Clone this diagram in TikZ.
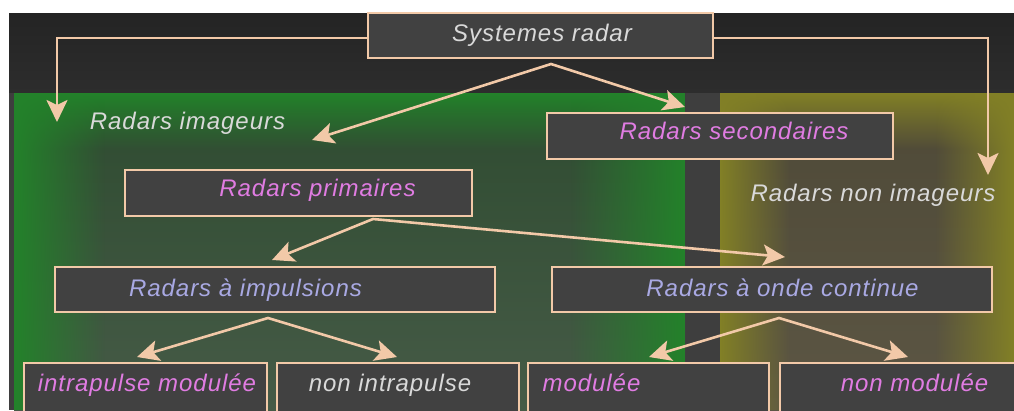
\documentclass[tikz,border=0pt]{standalone}
\usepackage{fontspec}
\setmainfont{Liberation Sans}
\newfontfamily\labfont{Liberation Sans}[LetterSpace=4]
\usetikzlibrary{arrows.meta,fadings}
\definecolor{peach}{HTML}{F2C9A8}
\definecolor{boxgrey}{HTML}{414141}
\definecolor{bgtop}{HTML}{242424}
\definecolor{bgbot}{HTML}{2D2D2D}
\definecolor{gapgrey}{HTML}{3E3E3E}
\definecolor{gEdge}{HTML}{23822A}
\definecolor{gTop}{HTML}{2E4B30}
\definecolor{gBot}{HTML}{465B47}
\definecolor{yEdge}{HTML}{828026}
\definecolor{yTop}{HTML}{4E4937}
\definecolor{yBot}{HTML}{5C5644}
\definecolor{pinkT}{HTML}{E07CE2}
\definecolor{lavT}{HTML}{A9A9E3}
\definecolor{greyT}{HTML}{D9D9D9}
\tikzfading[name=fadeToRight, left color=transparent!0, right color=transparent!100]
\tikzfading[name=fadeToLeft, left color=transparent!100, right color=transparent!0]
\tikzfading[name=fadeToBottom, top color=transparent!0, bottom color=transparent!100]
\begin{document}
\begin{tikzpicture}[x=1pt,y=-1pt,
  box/.style={draw=peach, line width=2.2pt, fill=boxgrey, inner sep=0pt},
  lab/.style={font=\labfont\itshape\fontsize{24}{28}\selectfont, inner sep=0pt, anchor=base},
  tip/.style={Stealth[length=22pt,width=21pt,inset=5pt]},
  arr/.style={draw=peach, line width=2.6pt, line join=miter, -{Stealth[length=22pt,width=21pt,inset=5pt]}},
  arr2/.style={draw=peach, line width=2.6pt, line join=miter,
    {Stealth[length=22pt,width=21pt,inset=5pt]}-{Stealth[length=22pt,width=21pt,inset=5pt]}}]
\useasboundingbox (0,0) rectangle (1014,410);
% background
\fill[white] (0,0) rectangle (1014,410);
\shade[top color=bgtop, bottom color=bgbot] (9,13) rectangle (1014,93);
\fill[gapgrey] (9,93) rectangle (1014,410);
% green region
\shade[top color=gTop, bottom color=gBot] (14,93) rectangle (685,410);
\fill[gEdge, path fading=fadeToBottom] (14,93) rectangle (685,150);
\fill[gEdge, path fading=fadeToRight] (14,93) rectangle (105,410);
\fill[gEdge, path fading=fadeToLeft] (570,93) rectangle (685,410);
% yellow region
\shade[top color=yTop, bottom color=yBot] (720,93) rectangle (1014,410);
\fill[yEdge, path fading=fadeToBottom] (720,93) rectangle (1014,150);
\fill[yEdge, path fading=fadeToRight] (720,93) rectangle (790,410);
\fill[yEdge, path fading=fadeToLeft] (935,93) rectangle (1014,410);
% boxes
\node[box, minimum width=345pt, minimum height=45pt] (sys) at (540.5,35.5) {};
\node[box, minimum width=346pt, minimum height=46pt] (sec) at (720,136) {};
\node[box, minimum width=347pt, minimum height=46pt] (pri) at (298.5,193) {};
\node[box, minimum width=440pt, minimum height=45pt] (imp) at (275,289.5) {};
\node[box, minimum width=440pt, minimum height=45pt] (onde) at (772,289.5) {};
\node[box, minimum width=243pt, minimum height=57pt] (b1) at (145.5,391.5) {};
\node[box, minimum width=242pt, minimum height=57pt] (b2) at (398,391.5) {};
\node[box, minimum width=241pt, minimum height=57pt] (b3) at (648.5,391.5) {};
\node[box, minimum width=250pt, minimum height=57pt] (b4) at (905,391.5) {};
% texts
\node[lab, text=greyT] (tsys) at (542,41) {Systemes radar};
\node[lab, text=greyT] (timg) at (187.5,129) {Radars imageurs};
\node[lab, text=pinkT] (tsec) at (734,139) {Radars secondaires};
\node[lab, text=pinkT] (tpri) at (317.5,196) {Radars primaires};
\node[lab, text=greyT] (tnon) at (873,201) {Radars non imageurs};
\node[lab, text=lavT] (timp) at (245.5,296) {Radars à impulsions};
\node[lab, text=lavT] (tonde) at (782.5,296) {Radars à onde continue};
\node[lab, text=pinkT] (tb1) at (147,391) {intrapulse modulée};
\node[lab, text=greyT] (tb2) at (390,391) {non intrapulse};
\node[lab, text=pinkT] (tb3) at (591.5,391) {modulée};
\node[lab, text=pinkT] (tb4) at (914.5,391) {non modulée};
% connector points
\coordinate (tl) at (57,122);
\coordinate (tr) at (988,175);
\coordinate (f1) at (551,64);
\coordinate (t1a) at (312,140);
\coordinate (t1b) at (685,107);
\coordinate (f2) at (373,219);
\coordinate (t2a) at (272,260);
\coordinate (t2b) at (785,257);
\coordinate (f3) at (268,318);
\coordinate (t3a) at (137,357);
\coordinate (t3b) at (397,357);
\coordinate (f4) at (779,318);
\coordinate (t4a) at (649,357);
\coordinate (t4b) at (908,357);
% connectors
\draw[arr] ([yshift=-2.5pt]sys.west) -| (tl);
\draw[arr] ([yshift=-2.5pt]sys.east) -| (tr);
\draw[arr2] (t1a) -- (f1) -- (t1b);
\draw[arr2] (t2a) -- (f2) -- (t2b);
\draw[arr2] (t3a) -- (f3) -- (t3b);
\draw[arr2] (t4a) -- (f4) -- (t4b);
\end{tikzpicture}
\end{document}
